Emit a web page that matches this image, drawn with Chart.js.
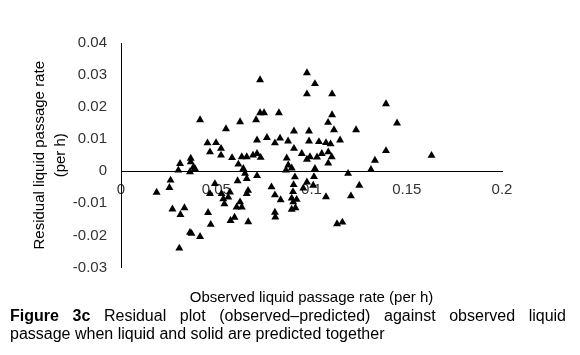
<!DOCTYPE html>
<html>
<head>
<meta charset="utf-8">
<script src="https://cdn.jsdelivr.net/npm/chart.js@4/dist/chart.umd.min.js"></script>
<style>
  html, body { margin: 0; padding: 0; background: #fff; }
  #wrap { position: relative; width: 580px; height: 355px; }
  #chart { position: absolute; left: 0; top: 0; }
  #caption {
    position: absolute; left: 10px; top: 307px; width: 556px;
    font-family: "Liberation Sans", Arial, sans-serif; font-size: 16px; line-height: 18px;
    color: #000;
  }
  #caption .l1 { text-align: justify; text-align-last: justify; white-space: nowrap; }
  #caption .l2 { text-align: left; }
</style>
</head>
<body>
<div id="wrap">
  <canvas id="chart" width="580" height="310"></canvas>
  <div id="caption"><div class="l1"><b>Figure 3c</b> Residual plot (observed–predicted) against observed liquid</div><div class="l2">passage when liquid and solid are predicted together</div></div>
</div>
<script>
// Observed liquid passage rate (per h)
const observed = [
  0.0976, 0.0730, 0.1018, 0.0976, 0.1108, 0.1391, 0.0415, 0.0625, 0.0730, 0.0751,
  0.0829, 0.0709, 0.1108, 0.1087, 0.1449, 0.0551, 0.0908, 0.0987, 0.1118, 0.1234,
  0.0714, 0.0766, 0.0835, 0.0877, 0.0808, 0.0454, 0.0499, 0.0987, 0.1039, 0.1076,
  0.1100, 0.1150, 0.0525, 0.0908, 0.0467, 0.0525, 0.0949, 0.0714, 0.0693, 0.0660,
  0.0733, 0.0583, 0.0366, 0.0992, 0.0870, 0.1054, 0.1088, 0.1106, 0.1029, 0.1391,
  0.1630, 0.1333, 0.1312, 0.1192, 0.0976, 0.1088, 0.0310, 0.0366, 0.0380, 0.0301,
  0.0362, 0.0388, 0.0616, 0.0634, 0.0642, 0.0651, 0.0878, 0.0896, 0.0866, 0.1018,
  0.1251, 0.1207, 0.1076, 0.1134, 0.1162, 0.1013, 0.0976, 0.0957, 0.1009, 0.0260,
  0.0254, 0.0187, 0.0270, 0.0312, 0.0333, 0.0457, 0.0471, 0.0362, 0.0370, 0.0415,
  0.0306, 0.0612, 0.0493, 0.0528, 0.0537, 0.0543, 0.0572, 0.0563, 0.0607, 0.0596,
  0.0575, 0.0660, 0.0714, 0.0667, 0.0660, 0.0625, 0.0634, 0.0668, 0.0790, 0.0808,
  0.0838, 0.0808, 0.0810, 0.0913, 0.0906, 0.0903, 0.0896, 0.0904, 0.0922, 0.0896,
  0.0916, 0.0467
];
// Residual (observed - predicted), per h
const residual = [
  0.0307, 0.0285, 0.0273, 0.0241, 0.0241, 0.0210, 0.0160, 0.0154, 0.0182, 0.0182,
  0.0182, 0.0160, 0.0176, 0.0152, 0.0150, 0.0132, 0.0125, 0.0125, 0.0129, 0.0129,
  0.0097, 0.0105, 0.0103, 0.0094, 0.0088, 0.0088, 0.0089, 0.0094, 0.0092, 0.0089,
  0.0085, 0.0097, 0.0071, 0.0071, 0.0060, 0.0050, 0.0055, 0.0055, 0.0050, 0.0045,
  0.0043, 0.0042, 0.0040, 0.0045, 0.0041, 0.0055, 0.0060, 0.0045, 0.0044, 0.0064,
  0.0049, 0.0034, 0.0005, -0.0007, 0.0037, 0.0025, 0.0024, 0.0029, 0.0013, 0.0003,
  -0.0002, 0.0008, 0.0022, 0.0045, 0.0008, -0.0007, 0.0019, 0.0010, 0.0003, 0.0008,
  -0.0044, -0.0077, -0.0080, -0.0164, -0.0159, -0.0017, -0.0034, -0.0053, -0.0044, -0.0028,
  -0.0051, -0.0066, -0.0118, -0.0135, -0.0114, -0.0129, -0.0166, -0.0191, -0.0194, -0.0204,
  -0.0240, -0.0030, -0.0039, -0.0070, -0.0086, -0.0102, -0.0065, -0.0081, -0.0112, -0.0144,
  -0.0154, -0.0023, -0.0014, -0.0060, -0.0070, -0.0096, -0.0112, -0.0158, -0.0049, -0.0074,
  -0.0089, -0.0128, -0.0143, -0.0018, -0.0042, -0.0064, -0.0084, -0.0096, -0.0088, -0.0119,
  -0.0114, -0.0070
];
const xTickValues = [0, 0.05, 0.1, 0.15, 0.2];
const xTickLabels = ['0', '0.05', '0.1', '0.15', '0.2'];
const yTickValues = [-0.03, -0.02, -0.01, 0, 0.01, 0.02, 0.03, 0.04];
const yTickLabels = ['-0.03', '-0.02', '-0.01', '0', '0.01', '0.02', '0.03', '0.04'];

const xTitle = 'Observed liquid passage rate (per h)';
const yTitle = ['Residual liquid passage rate', '(per h)'];

const points = observed.map((x, i) => ({ x: x, y: residual[i] }));
const FONT = '"Liberation Sans", Arial, sans-serif';

new Chart(document.getElementById('chart'), {
  type: 'scatter',
  data: {
    datasets: [{
      data: points,
      pointStyle: 'triangle',
      pointRadius: 4.6,
      pointHoverRadius: 4.6,
      backgroundColor: '#000',
      borderColor: '#000',
      borderWidth: 0,
      xAxisID: 'x',
      yAxisID: 'y'
    }]
  },
  options: {
    responsive: false,
    animation: false,
    devicePixelRatio: 1,
    layout: { padding: { left: 25, right: 78, top: 43, bottom: 3 } },
    plugins: { legend: { display: false }, tooltip: { enabled: false } },
    scales: {
      x: {
        type: 'linear',
        position: { y: 0 },
        min: 0, max: 0.2,
        grid: { display: false, drawTicks: false },
        border: { display: true, color: '#000', width: 1 },
        afterBuildTicks: (s) => { s.ticks = xTickValues.map(v => ({ value: v })); },
        ticks: {
          padding: 10,
          color: '#333',
          font: { family: FONT, size: 15 },
          maxRotation: 0,
          autoSkip: false,
          callback: (v, i) => xTickLabels[i]
        }
      },
      x2: {
        type: 'linear',
        position: 'bottom',
        min: 0, max: 0.2,
        grid: { display: false, drawTicks: false },
        border: { display: false },
        ticks: { display: false },
        title: {
          display: true,
          text: xTitle,
          color: '#000',
          font: { family: FONT, size: 15 },
          padding: 0
        },
        afterFit: (s) => { s.height = 39.5; }
      },
      y: {
        type: 'linear',
        position: 'left',
        min: -0.03, max: 0.04,
        grid: { display: false, drawTicks: false },
        border: { display: true, color: '#000', width: 1 },
        afterBuildTicks: (s) => { s.ticks = yTickValues.map(v => ({ value: v })); },
        ticks: {
          padding: 14,
          color: '#333',
          font: { family: FONT, size: 15 },
          autoSkip: false,
          callback: (v, i) => yTickLabels[i]
        },
        title: {
          display: true,
          text: yTitle,
          color: '#000',
          font: { family: FONT, size: 15, lineHeight: 1.4 },
          padding: { top: 4, bottom: 0 }
        },
        afterFit: (s) => { s.width = 96; }
      }
    }
  }
});
</script>
</body>
</html>
